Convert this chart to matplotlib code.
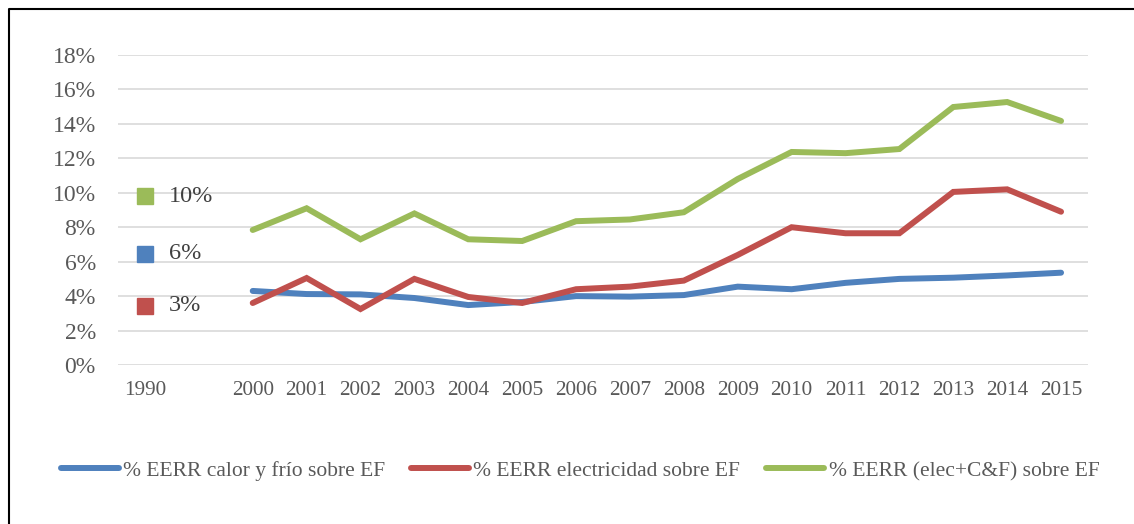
import numpy as np
import matplotlib
matplotlib.use("Agg")
import matplotlib.pyplot as plt
from matplotlib.lines import Line2D

# Años: 1990 va suelto, luego un hueco y la serie 2000-2015
years = ['1990', ''] + [str(y) for y in range(2000, 2016)]

calor_frio = [0.0645, np.nan, 0.0430, 0.0412, 0.0410, 0.0389, 0.0348, 0.0366,
              0.0400, 0.0397, 0.0406, 0.0455, 0.0440, 0.0477, 0.0500, 0.0507,
              0.0520, 0.0536]
electricidad = [0.0345, np.nan, 0.0360, 0.0505, 0.0325, 0.0500, 0.0395, 0.0360,
                0.0440, 0.0455, 0.0490, 0.0639, 0.0800, 0.0765, 0.0765, 0.1005,
                0.1020, 0.0890]
total = [0.098, np.nan, 0.0784, 0.0910, 0.0730, 0.0880, 0.0730, 0.0720,
         0.0835, 0.0845, 0.0887, 0.1080, 0.1237, 0.1230, 0.1254, 0.1498,
         0.1527, 0.1417]

names = ['% EERR calor y frío sobre EF',
         '% EERR electricidad sobre EF',
         '% EERR (elec+C&F) sobre EF']
colors = ['#4F81BD', '#C0504D', '#9BBB59']

plt.rcParams['font.family'] = ['Liberation Serif', 'DejaVu Serif']

fig = plt.figure(figsize=(11.34, 5.24), dpi=100)
ax = fig.add_axes([118 / 1134, 1 - 365 / 524, 970 / 1134, 310 / 524])

x = np.arange(len(years))
for serie, name, c in zip([calor_frio, electricidad, total], names, colors):
    ax.plot(x[2:], serie[2:], color=c, lw=4.3, solid_capstyle='round',
            solid_joinstyle='miter', label=name, zorder=3)
    # punto aislado de 1990 con su etiqueta
    ax.plot(x[0], serie[0], marker='s', ms=11, color=c, ls='none', zorder=3)
    ax.annotate(f'{serie[0]:.0%}', (x[0], serie[0]), xytext=(17, 0),
                textcoords='offset points', ha='left', va='center',
                fontsize=17.5, color='#404040', zorder=4)

ax.set_xlim(-0.5, len(years) - 0.5)
ax.set_ylim(0, 0.18)
ax.set_yticks(np.arange(0, 0.181, 0.02))
ax.set_yticklabels([f'{v:.0%}' for v in np.arange(0, 0.181, 0.02)])
ax.set_xticks(x)
ax.set_xticklabels(years)

ax.tick_params(axis='y', length=0, pad=16, labelsize=17, labelcolor='#595959')
ax.tick_params(axis='x', length=0, pad=11.5, labelsize=15.3, labelcolor='#595959')
ax.grid(axis='y', color='#D9D9D9', lw=1.2, zorder=0)
ax.set_axisbelow(True)
for s in ax.spines.values():
    s.set_visible(False)

fig.legend(loc='center', bbox_to_anchor=(580 / 1134, 1 - 471 / 524),
           ncol=3, frameon=False, fontsize=15.5, handlelength=2.7,
           handletextpad=0.2, columnspacing=1.2, labelcolor='#595959')

# marco (solo se ven el borde superior e izquierdo)
fig.add_artist(Line2D([9 / 1134, 9 / 1134, 1.0], [0.0, 1 - 9 / 524, 1 - 9 / 524],
                      transform=fig.transFigure, color='black', lw=1.5))

fig.savefig('out.png', dpi=100)
